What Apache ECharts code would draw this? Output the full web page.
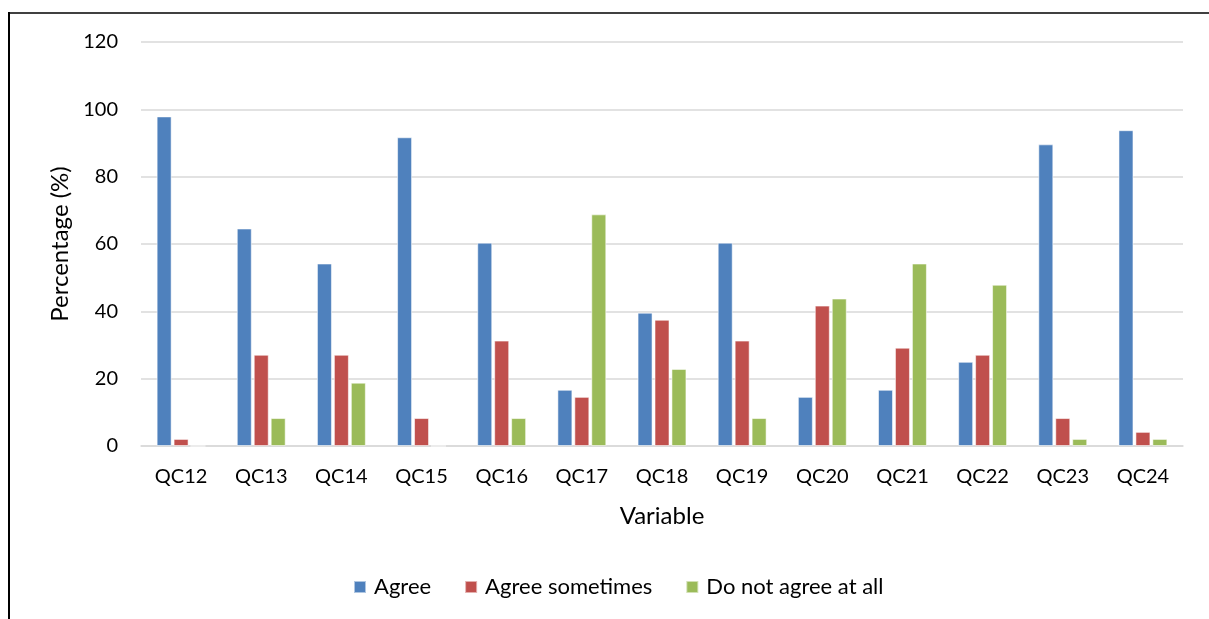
<!DOCTYPE html>
<html>
<head>
<meta charset="utf-8">
<script src="https://cdn.jsdelivr.net/npm/echarts@6/dist/echarts.min.js"></script>
<style>
  html, body { margin: 0; padding: 0; background: #fff; }
  #chart { width: 1209px; height: 619px; }
</style>
</head>
<body>
<div id="chart"></div>
<script>
// Survey responses per variable, percentage of respondents
const categories = ['QC12','QC13','QC14','QC15','QC16','QC17','QC18','QC19','QC20','QC21','QC22','QC23','QC24'];
const agree          = [97.9, 64.6, 54.2, 91.7, 60.4, 16.7, 39.6, 60.4, 14.6, 16.7, 25.0, 89.6, 93.8];
const agreeSometimes = [2.1, 27.1, 27.1, 8.3, 31.3, 14.6, 37.5, 31.3, 41.7, 29.2, 27.1, 8.3, 4.2];
const doNotAgree     = [0, 8.3, 18.8, 0, 8.3, 68.8, 22.9, 8.3, 43.8, 54.2, 47.9, 2.1, 2.1];
const seriesNames = ['Agree', 'Agree sometimes', 'Do not agree at all'];
const colors = ['#4F81BD', '#C0504D', '#9BBB59'];

const FONT = 'Lato, "Open Sans", sans-serif';
const chart = echarts.init(document.getElementById('chart'));

function bar(name, data, color) {
  return {
    name: name,
    type: 'bar',
    data: data,
    barWidth: 15,
    barGap: '13%',
    itemStyle: { color: color, borderColor: 'rgba(255,255,255,0.55)', borderWidth: 1 }
  };
}

chart.setOption({
  animation: false,
  textStyle: { fontFamily: FONT, color: '#000' },
  grid: { left: 141, right: 26, top: 42, bottom: 173 },
  legend: {
    top: 571,
    left: 348,
    itemWidth: 12,
    itemHeight: 12,
    itemGap: 33,
    icon: 'rect',
    textStyle: { fontFamily: FONT, fontSize: 22, color: '#000', padding: [0, 0, 0, 3] },
    data: seriesNames
  },
  xAxis: {
    type: 'category',
    data: categories,
    name: 'Variable',
    nameLocation: 'middle',
    nameGap: 58,
    nameTextStyle: { fontFamily: FONT, fontSize: 24, color: '#000' },
    axisLine: { lineStyle: { color: '#D9D9D9', width: 1.5 } },
    axisTick: { show: false },
    axisLabel: { fontFamily: FONT, fontSize: 20, color: '#000', margin: 21 }
  },
  yAxis: {
    type: 'value',
    min: 0,
    max: 120,
    interval: 20,
    name: 'Percentage (%)',
    nameLocation: 'middle',
    nameGap: 68,
    nameTextStyle: { fontFamily: FONT, fontSize: 24, color: '#000' },
    axisLine: { show: false },
    axisTick: { show: false },
    axisLabel: { fontFamily: FONT, fontSize: 20, color: '#000', margin: 23 },
    splitLine: { lineStyle: { color: '#D9D9D9', width: 1.5 } }
  },
  graphic: [
    { type: 'line', shape: { x1: 9, y1: 13, x2: 1209, y2: 13 }, style: { stroke: '#000', lineWidth: 1.5 } },
    { type: 'line', shape: { x1: 9, y1: 12, x2: 9, y2: 619 }, style: { stroke: '#000', lineWidth: 2 } }
  ],
  series: [
    bar(seriesNames[0], agree, colors[0]),
    bar(seriesNames[1], agreeSometimes, colors[1]),
    bar(seriesNames[2], doNotAgree, colors[2])
  ]
});
</script>
</body>
</html>
